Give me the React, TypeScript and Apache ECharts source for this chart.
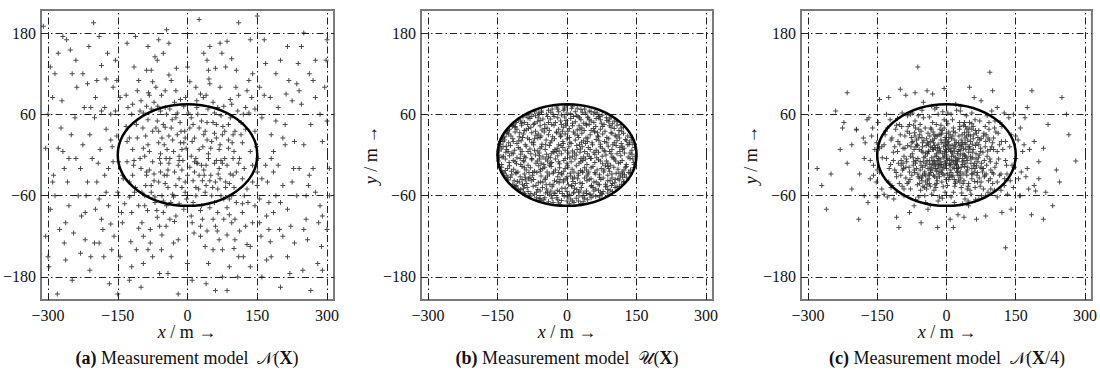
import React, { useEffect, useRef } from "react";
import * as echarts from "echarts";

const X_TICKS = [-300, -150, 0, 150, 300];
const Y_TICKS = [-180, -60, 60, 180];
const X_RANGE = [-315, 315];
const Y_RANGE = [-214, 214];
// ellipse: centre x, centre y, semi-axis x, semi-axis y
const ELLIPSE = [0, 0, 150, 75];

const CAPTION_TAGS = ["(a)", "(b)", "(c)"];
const CAPTION_TEXT = "Measurement model";
const CAPTION_MODELS = [["𝒩", "X", ""], ["𝒰", "X", ""], ["𝒩", "X", "/4"]];

// (a) N(X)
const PANEL_A = [
  -12,8, 35,-22, -48,41, 70,15, -88,-30, 22,60, -5,-55, 110,-12, -130,20, 55,48,
  -70,-70, 95,75, -25,95, 140,-40, -160,-10, 8,-90, 180,30, -200,55, 60,-105, -105,110,
  15,25, -40,-12, 82,-48, -62,18, 30,-75, -95,62, 125,38, -150,-55, 45,2, -18,-35,
  200,-70, -230,-20, 0,130, 165,88, -185,-95, 75,-140, -55,-118, 250,15, -270,80, 105,125,
  -33,52, 48,-38, -115,-8, 88,22, -8,72, 152,-5, -175,38, 28,-120, -78,-45, 118,-85,
  -290,-40, 285,60, -240,140, 230,-130, -120,-165, 135,170, -45,185, 40,-190, 300,-110, -305,10,
  5,-18, -22,30, 62,-8, -58,-25, 38,35, -82,5, 92,-28, 18,-48, -38,68, 72,58,
  -145,85, 155,-65, -195,-40, 210,45, -120,-85, 175,-110, -215,105, 260,-45, -255,-75, 190,120,
  -10,-8, 12,45, -30,-62, 52,-60, -68,40, 100,5, -100,-20, 132,62, -138,-35, 20,-12,
  -260,170, 275,140, -180,-150, 220,-175, -85,160, 90,-165, -300,-150, 305,-20, -220,-125, 240,95,
  40,88, -52,-85, 68,-20, -90,28, 115,48, -125,-62, 148,12, -165,60, 185,-25, -205,-5,
  25,-30, -15,18, 58,32, -42,-48, 78,-65, -72,78, 98,-5, -110,45, 128,-50, -140,-100,
  -275,-110, 290,20, -250,30, 255,-95, -235,-60, 245,75, -210,-170, 215,160, -190,175, 170,-155,
  2,62, -28,-98, 48,105, -58,2, 85,-118, -98,-55, 110,88, -118,8, 140,-100, -152,28,
  33,12, -18,-72, 65,70, -48,95, 90,-42, -80,-110, 105,-70, -128,70, 160,55, -170,-75,
  -65,140, 70,165, -35,-150, 45,-160, -155,140, 160,-180, -100,-195, 110,195, -20,-205, 25,200,
  280,-160, -285,120, 295,100, -295,-80, 270,-20, -265,-20, 300,170, -310,190, 265,-200, -280,-205,
  -6,35, 18,-60, -44,-30, 52,20, -75,-10, 88,45, -92,-75, 122,-20, -108,95, 138,85,
  -158,-120, 172,-40, -188,8, 195,70, -222,70, 228,-20, -245,-115, 238,135, -262,-155, 265,45,
  10,-100, -40,118, 60,128, -85,-140, 95,142, -122,-128, 128,-132, -60,-175, 75,-180, 0,-160,
  -15,82, 32,-95, -52,-68, 70,-35, -85,52, 102,-95, -102,-5, 118,18, -135,-72, 150,-45,
  180,-5, -178,-30, 205,-45, -198,85, 218,110, -228,-90, 235,-60, -242,55, 258,-125, -268,5,
  20,70, -30,5, 42,-112, -65,-92, 80,35, -75,108, 100,-138, -112,-48, 132,110, -145,-150,
  45,-5, -5,-40, 28,90, -48,70, 65,-85, -88,-25, 108,65, -132,42, 145,-75, -162,12,
  300,50, -300,60, 285,-75, -288,-30, 250,180, -252,155, 200,-195, -202,195, 150,205, -150,-205,
  5,108, -20,-125, 35,150, -42,-175, 55,-140, -70,145, 85,168, -95,-160, 120,-150, -130,165,
  168,135, -175,112, 185,-85, -190,-65, 210,15, -215,-40, 225,80, -230,-145, 248,-170, -255,-5,
  -8,18, 15,-25, -25,55, 40,-45, -55,-60, 75,-12, -78,68, 92,82, -105,-108, 112,-112,
  135,-135, -148,-10, 155,100, -165,-102, 178,-128, -185,132, 198,-110, -208,-150, 215,-80, -225,120,
  240,-20, -238,100, 262,120, -265,-130, 275,-55, -278,150, 288,-135, -290,85, 305,-60, -305,-120,
  -20,-15, 10,20, -35,40, 50,-30, -60,-5, 75,30, -90,-45, 105,-25, -120,60, 135,5,
  30,50, -45,-75, 65,-50, -75,35, 95,-60, -100,80, 125,70, -140,-30, 145,35, -155,65,
  -2,-65, 20,80, -25,-90, 40,-15, -55,25, 70,100, -80,-130, 95,-100, -115,130, 130,-70,
  8,-2, -16,48, 28,-82, -38,-5, 58,62, -62,-40, 85,-78, -95,-120, 110,-150, -130,-10,
  170,-90, -175,-55, 190,50, -195,110, 205,-120, -210,30, 225,-40, -220,-85, 235,105, -240,-5,
  -50,15, 60,-40, 12,-38, -28,78, 45,125, -68,100, 80,-5, -92,-2, 118,-35, -105,-75,
  25,8, -12,-22, 38,-55, -45,60, 62,45, -70,-62, 88,10, -85,15, 100,-48, -125,25,
  -160,100, 150,-25, -170,-20, 175,-70, -185,65, 195,-15, -200,-130, 212,90, -218,-60, 230,20,
  5,40, -8,-80, 18,100, -30,-130, 42,140, -52,150, 68,-125, -75,-150, 82,130, -88,125,
  15,-10, -25,-45, 35,30, -38,-95, 55,-95, -58,65, 72,-60, -65,50, 98,30, -96,40,
  140,120, -142,-85, 158,-120, -163,-140, 180,-150, -172,150, 120,60, -110,-140, 135,-165, -125,-185,
  -3,10, 22,-12, -32,22, 42,48, -48,-42, 58,-12, -72,-28, 78,72, -82,88, 90,-88,
  255,-60, -258,-40, 270,110, -272,40, 282,-100, -285,-60, 290,-170, -295,130, 245,160, -248,-185,
  48,160, -62,170, 108,-180, -112,175, 165,170, -168,-190, 60,-200, -40,165, 10,-185, 85,-200,
  -18,-2, 32,-38, -42,-22, 55,78, -60,-105, 72,-8, -88,72, 102,35, -118,-30, 125,-105,
  -5,25, 18,-5, -28,-25, 42,22, -52,45, 66,-28, -78,-55, 92,55, -108,25, 122,-60,
  12,-70, -22,62, 34,85, -46,-105, 58,-70, -64,72, 78,-95, -86,-82, 104,100, -114,-55,
  0,-30, 25,40, -40,28, -58,-12, 50,10, 85,-15, -95,10, 115,30, -125,-40, 140,-15,
  -12,-48, 28,-105, -35,110, 62,25, -72,-38, 98,-30, -102,65, 118,-72, -132,88, 145,68,
  160,-35, -165,22, 178,85, -182,-110, 190,-60, -192,-12, 205,25, -208,70, 222,-105, -225,15,
  8,55, -18,-8, 36,-30, -32,-58, 54,-48, -44,8, 76,42, -66,-82, 90,-65, -84,92,
  -4,85, 14,-115, -24,128, 38,-135, 46,112, -56,-140, 74,150, -78,125, 102,-125, -98,-100,
  155,-100, -152,110, 168,-15, -178,70, 185,5, -190,-130, 200,140, -198,-80, 215,-150, -212,160,
  24,-50, -36,-70, 44,68, -50,-30, 68,8, -62,35, 82,-40, -92,-60, 96,18, -116,-15,
  250,-110, -248,120, 262,-30, -262,-100, 275,85, -278,10, 290,-90, -298,-165, 298,140, -268,175,
  30,-15, -14,35, -46,-5, 48,-78, -56,88, 64,-112, -82,-22, 112,-5, -118,75, 128,95,
];

// (b) U(X)
const PANEL_B = [
  -40,66, -22,71, -5,68, 12,72, 30,67, 48,65, -55,65, 0,73, 22,69, -32,68,
  -95,56, -80,61, -68,58, -55,63, -42,57, -30,60, -18,64, -5,56, 8,61, 20,58, 33,63, 45,56, 58,60, 70,57, 85,55, 95,56, -88,58, -60,60, -12,59, 27,55, 52,64, 65,62,
  -115,46, -105,52, -92,48, -80,54, -70,47, -58,51, -48,45, -36,53, -25,48, -14,50, -3,46, 8,54, 18,49, 30,52, 41,46, 52,50, 63,54, 74,47, 86,51, 98,46, 108,49, 116,45, -85,45, -62,55, -20,55, 12,47, 45,55, 80,45,
  -128,36, -118,42, -108,38, -98,44, -88,37, -78,41, -68,35, -58,43, -48,39, -38,36, -28,44, -18,38, -8,41, 2,35, 12,43, 22,37, 32,40, 42,44, 52,36, 62,42, 72,38, 82,35, 92,43, 102,39, 112,36, 122,41, -116,44, -72,45, -12,45, 48,45, 118,35, 5,39,
  -138,26, -130,32, -121,28, -112,34, -103,27, -94,31, -85,25, -76,33, -67,29, -58,26, -49,34, -40,30, -31,27, -22,33, -13,28, -4,31, 5,26, 14,34, 23,29, 32,32, 41,25, 50,30, 59,34, 68,27, 77,31, 86,26, 95,33, 104,29, 113,25, 122,32, 131,28, 138,26, -128,34, -10,35, 60,35,
  -143,16, -135,22, -126,18, -117,24, -108,17, -99,21, -90,15, -81,23, -72,19, -63,25, -54,16, -45,22, -36,18, -27,24, -18,15, -9,20, 0,24, 9,17, 18,22, 27,15, 36,21, 45,25, 54,18, 63,23, 72,16, 81,20, 90,24, 99,15, 108,21, 117,17, 126,23, 135,19, 142,16, -140,24, 40,17, -70,24,
  -146,6, -138,12, -130,8, -122,14, -113,7, -105,11, -97,5, -88,13, -80,9, -72,15, -63,6, -55,12, -47,8, -38,14, -30,5, -21,10, -13,14, -4,7, 4,12, 12,6, 21,14, 29,9, 38,5, 46,11, 55,15, 63,7, 72,12, 80,6, 89,13, 97,8, 106,14, 114,5, 123,10, 131,15, 140,7, 146,11, -17,6,
  -147,0, -140,-3, -132,4, -124,-1, -116,2, -108,-4, -100,1, -92,-2, -84,5, -76,-5, -68,0, -60,3, -52,-3, -44,1, -36,-4, -28,4, -20,-1, -12,2, -4,-5, 4,3, 12,-2, 20,0, 28,4, 36,-3, 44,2, 52,-5, 60,1, 68,4, 76,-2, 84,0, 92,5, 100,-4, 108,2, 116,-1, 124,3, 132,-3, 140,1, 147,-2,
  -148,-9, -141,-14, -133,-6, -125,-11, -116,-8, -109,-13, -101,-5, -93,-10, -84,-15, -76,-7, -67,-12, -59,-6, -50,-14, -42,-9, -33,-11, -25,-6, -16,-13, -7,-8, 1,-15, 9,-10, 17,-6, 26,-12, 34,-8, 43,-14, 51,-5, 60,-11, 68,-7, 77,-13, 85,-9, 94,-15, 102,-6, 111,-12, 119,-8, 128,-14, 136,-5, 144,-11, -38,-15,
  -141,-18, -133,-23, -124,-16, -115,-21, -106,-25, -97,-17, -88,-22, -79,-19, -70,-24, -61,-16, -52,-20, -43,-25, -34,-17, -25,-22, -16,-19, -7,-24, 2,-18, 11,-21, 20,-16, 29,-23, 38,-19, 47,-25, 56,-17, 65,-22, 74,-20, 83,-16, 92,-24, 101,-18, 110,-21, 119,-25, 128,-17, 137,-22, 144,-19, -58,-24, 15,-25, 88,-17,
  -136,-27, -128,-33, -119,-29, -110,-26, -101,-32, -92,-28, -83,-35, -74,-30, -65,-26, -56,-31, -47,-34, -38,-28, -29,-25, -20,-32, -11,-29, -2,-35, 7,-27, 16,-33, 25,-30, 34,-26, 43,-31, 52,-35, 61,-28, 70,-33, 79,-25, 88,-30, 97,-34, 106,-27, 115,-31, 124,-29, 133,-26, -18,-26, 45,-28, -90,-33, 110,-35,
  -127,-37, -117,-43, -107,-39, -97,-36, -87,-42, -77,-38, -67,-45, -57,-40, -47,-36, -37,-43, -27,-38, -17,-41, -7,-37, 3,-44, 13,-39, 23,-35, 33,-42, 43,-38, 53,-45, 63,-40, 73,-36, 83,-43, 93,-38, 103,-41, 113,-37, 123,-39, -110,-45, -45,-44, 10,-45, 70,-44, -15,-36, 118,-43,
  -114,-47, -104,-52, -94,-49, -84,-54, -73,-46, -63,-51, -53,-48, -42,-55, -32,-47, -21,-52, -11,-49, 0,-54, 10,-46, 21,-51, 31,-48, 42,-53, 52,-46, 62,-50, 72,-55, 83,-47, 93,-52, 104,-48, 113,-46, -95,-55, -35,-53, 25,-55, 58,-53, 98,-54,
  -92,-57, -80,-61, -70,-58, -58,-64, -46,-56, -34,-60, -22,-63, -10,-57, 2,-62, 14,-56, 26,-60, 38,-64, 50,-58, 62,-61, 75,-57, 88,-56, -66,-63, -28,-56, 8,-65, 42,-57, 70,-62, -90,-59,
  -50,-66, -30,-70, -12,-67, 5,-72, 25,-68, 44,-66, -60,-65, -15,-73, 15,-70, 35,-69,
  -35,63, -8,66, 18,64, 40,62, 60,63, -62,62, -20,68, 10,69,
  -100,50, -76,57, -52,53, -28,57, -2,51, 24,57, 48,52, 72,52, 92,53, -110,48, 102,50, -40,48, 36,47, 68,56,
  -124,38, -102,33, -83,39, -62,31, -43,40, -23,34, -2,43, 17,31, 37,36, 57,39, 77,42, 97,32, 117,40, -112,41, 108,44,
  -134,27, -116,20, -96,26, -76,18, -56,28, -33,21, -14,27, 6,19, 25,26, 44,20, 66,28, 86,18, 106,27, 128,21, -144,20, 140,22,
  -142,9, -119,3, -101,9, -78,2, -58,10, -34,2, -9,11, 16,3, 33,12, 58,4, 76,10, 95,2, 119,13, 136,3, -26,8, 50,8,
  -137,-2, -112,-10, -89,-4, -64,-9, -40,-3, -18,-10, 6,-4, 30,-10, 48,-2, 72,-9, 97,-3, 115,-11, 142,-6, -56,-12, 88,-12,
  -128,-20, -110,-27, -92,-19, -74,-26, -48,-18, -30,-27, -4,-20, 24,-27, 42,-22, 60,-26, 80,-22, 97,-28, 123,-22, -139,-25, 136,-27,
  -122,-33, -103,-40, -80,-33, -62,-41, -42,-31, -22,-39, 0,-32, 18,-42, 38,-34, 58,-40, 78,-34, 98,-42, 120,-33, -92,-45, 88,-38,
  -100,-51, -78,-57, -58,-53, -38,-58, -16,-54, 5,-58, 28,-53, 48,-58, 68,-52, 88,-51, 108,-47, -110,-47, 16,-49,
  -48,-63, -20,-66, 0,-68, 20,-64, 52,-63, -40,-69, 30,-72,
  -70,64, 38,68, -6,71, -44,60, 76,59, -84,55, 14,57, 90,49, -98,47, -64,49,
  -33,45, 26,43, 58,48, 95,41, -126,31, -92,36, -54,37, -15,31, 28,38, 66,33,
  112,30, 134,16, -131,13, -104,21, -46,15, -8,17, 31,19, 69,21, 102,18, 120,8,
  -127,5, -94,-8, -70,7, -46,-6, -23,5, 0,-12, 22,8, 40,-6, 64,-4, 82,6,
  105,-9, 126,-18, -146,-4, -120,-24, -100,-14, -82,-26, -57,-21, -36,-12, -12,-27, 8,-31,
  33,-24, 52,-19, 70,-29, 90,-20, 112,-27, 128,-33, -131,-30, -114,-38, -96,-43, -72,-36,
  -52,-40, -30,-44, -8,-40, 12,-35, 28,-41, 48,-36, 67,-43, 86,-46, 104,-36, 120,-28,
  -106,-50, -86,-48, -66,-55, -44,-50, -26,-57, -4,-49, 15,-55, 36,-56, 56,-48, 78,-54,
  96,-45, -82,-60, -56,-67, -32,-64, -6,-61, 12,-68, 34,-62, 56,-60, 76,-58, -18,-71,
  -112,42, 122,-40, -138,20, 145,-14, -145,12, 0,62, -90,-37, 30,-5, -60,-1, 114,11,
];

// (c) N(X/4)
const PANEL_C = [
  0,0, 12,-8, -15,10, 25,5, -30,-12, 40,18, -45,3, 55,-20, -60,25, 8,30,
  -8,-28, 20,-40, -22,45, 35,-5, -38,-35, 50,12, -55,-15, 65,32, -70,8, 78,-25,
  5,15, -12,-18, 18,22, -25,-2, 30,-25, -35,20, 42,-12, -48,-28, 58,8, -62,-5,
  85,20, -88,-18, 95,-35, -100,30, 110,5, -115,-8, 120,42, -125,-40, 130,-15, -135,15,
  2,-45, -5,52, 15,-55, -18,60, 28,48, -32,-58, 45,-50, -50,55, 62,-48, -68,50,
  10,5, -3,-10, 22,-15, -20,28, 33,12, -42,-8, 48,30, -52,18, 68,-10, -75,-30,
  72,50, -80,45, 90,-55, -92,-50, 102,25, -108,-32, 118,-28, -120,22, 140,30, -145,-25,
  -2,22, 8,-22, -28,8, 38,-38, -46,40, 52,-2, -58,-42, 70,15, -74,2, 82,-8,
  150,-5, -155,8, 160,40, -165,-35, 175,-20, -180,25, 190,-45, -195,38, 210,10, -215,-12,
  15,35, -10,-40, 25,-30, -35,-22, 44,38, -40,32, 55,-35, -65,-20, 75,-40, -85,35,
  3,-5, -6,12, 16,-2, -14,-6, 26,18, -24,-20, 36,2, -32,-4, 46,-18, -44,14,
  88,-2, -90,10, 98,12, -98,-8, 105,-18, -105,20, 112,32, -112,-22, 125,-45, -128,40,
  -100,97, -62,130, 94,122, -225,40, 238,-22, 128,-137, -103,-107, 184,-88, 280,-9, -19,-107,
  15,-107, 193,-53, -195,37, 60,85, -40,-80, 20,75, -70,-75, 110,70, -130,60,
  0,32, -5,-30, 20,12, -18,16, 32,-18, -28,-30, 40,25, -38,5, 52,20, -50,-10,
  60,-25, -66,12, 74,5, -72,-15, 80,28, -82,-40, 92,38, -95,-22, 100,-42, -102,45,
  10,60, -15,-62, 30,65, -25,68, 40,-65, -45,-70, 55,62, -60,-62, 70,-65, -78,60,
  160,-60, -168,55, 175,70, -170,-70, 200,-35, -205,-50, 220,45, -230,8, 245,-40, -250,-28,
  6,-15, -8,2, 14,28, -16,-24, 24,-10, -22,2, 34,30, -30,22, 42,8, -40,-20,
  48,-42, -52,-30, 58,42, -60,38, 66,-30, -68,28, 76,-12, -78,-2, 86,-28, -85,-42,
  135,55, -140,-50, 145,-48, -148,48, 155,22, -158,-15, 165,5, -162,28, 172,-32, -178,-5,
  -5,40, 5,-36, -12,44, 18,-46, -30,48, 32,-48, -48,-48, 50,48, -56,-52, 62,52,
  4,8, -10,-14, 12,-32, -20,-38, 28,38, -34,40, 36,-42, -42,-44, 54,-28, -55,35,
  95,-10, -92,-2, 102,-28, -110,38, 115,15, -118,-45, 128,20, -130,-5, 138,-38, -140,12,
  75,80, -80,-85, 85,-90, -88,88, 100,95, -108,-92, 120,-85, -125,85, 140,-80, -145,82,
  38,-92, -42,95, 50,100, -55,-100, 25,-88, -30,90, 65,-95, -68,92, 8,-95, -5,98,
  20,-8, -26,14, 30,0, -36,-14, 44,-4, -46,-16, 56,4, -54,6, 64,-6, -64,16,
  72,22, -70,-22, 80,-20, -76,26, 84,12, -86,-10, 90,25, -94,-12, 96,-50, -97,42,
  0,-20, 2,18, -18,-12, 10,-26, -12,30, 22,-20, -26,-32, 36,-28, -36,28, 46,22,
  105,50, -108,-55, 118,-52, -122,52, 132,-58, -135,-58, 145,60, -150,-62, 158,-60, -152,-40,
  230,-75, -240,65, 260,60, -270,-45, 185,95, -190,-95, 210,-95, -215,92, 250,85, -260,-80,
  -2,8, 7,-12, -10,18, 16,10, -20,-8, 24,-24, -26,24, 34,-10, -34,-26, 42,16,
  -4,-2, 9,6, -17,-5, 21,-14, -28,18, 31,7, -37,-9, 45,-22, -52,12, 58,24,
  6,-33, -14,38, 19,-42, -23,-48, 37,44, -41,-37, 47,-46, -57,45, 61,-39, -63,-44,
  1,12, -9,-22, 17,-20, -19,7, 27,-5, -31,11, 39,-17, -43,24, 51,9, -47,-25,
  66,18, -66,-8, 73,-18, 70,36, -73,20, 79,4, -80,-25, 87,-15, -84,14, 93,22,
  -2,-12, 11,24, -24,-14, 29,14, -33,-18, 41,-2, -49,-4, 53,-12, -57,-22, 63,14,
  14,-30, -16,30, 26,-37, -29,34, 39,33, -45,-31, 49,40, -53,-38, 67,-26, -69,33,
  -98,-15, 102,8, -106,5, 108,-12, -112,12, 115,-30, -118,25, 122,8, -124,-20, 128,-8,
  3,46, -7,-47, 13,52, -27,-52, 33,-56, -37,56, 43,58, -47,-60, 53,-58, -61,58,
  7,-7, -4,5, 15,-10, -12,22, 23,-26, -18,-28, 27,28, -26,-10, 35,18, -38,-28,
  44,-30, -41,18, 52,28, -46,-2, 59,-16, -54,-34, 64,2, -59,8, 71,-34, -67,-12,
  80,-50, -78,-50, 84,42, -83,42, 91,-38, -90,28, 96,-22, -99,-30, 104,40, -102,-42,
  142,-15, -145,10, 150,28, -150,-22, 156,-35, -160,40, 168,15, -165,-8, 178,-50, -172,52,
  -1,-36, 5,26, -11,32, 17,-36, -21,-42, 29,42, -35,-46, 47,34, -51,-46, 55,46,
  76,-60, -74,62, 88,58, -92,-60, 98,65, -96,62, 110,-62, -114,-65, 125,62, -128,-62,
  2,-28, 12,14, -6,-18, 20,-4, -14,-14, 26,-18, -22,-24, 32,22, -30,8, 38,-8,
  48,4, -44,-12, 56,16, -52,-18, 62,-20, -58,30, 68,26, -62,-28, 74,10, -72,-4,
  82,-32, -80,32, 86,30, -88,-34, 94,-6, -94,10, 100,18, -104,-12, 110,-40, -108,44,
  0,50, -3,-55, 10,-62, -8,64, 22,66, -18,-68, 35,-72, -32,72, 48,-75, -50,78,
  200,-10, -205,15, 170,55, -178,-60, 190,20, -188,-28, 215,-55, -222,48, 265,30, -280,-20,
  -7,-4, 13,3, -19,11, 23,-7, -27,-16, 33,15, -39,6, 43,-25, -49,21, 57,-4,
  4,20, -11,-26, 19,33, -21,-34, 29,-40, -33,38, 41,42, -45,-40, 55,38, -59,-34,
  9,-14, -3,26, 17,6, -15,-32, 25,-20, -29,-8, 37,10, -35,12, 45,-8, -41,2,
  61,-12, -65,22, 69,-4, -71,-10, 75,24, -77,12, 83,-30, -81,-18, 89,6, -87,-6,
  -1,4, 7,-30, -9,36, 15,40, -25,-44, 31,-34, -37,-42, 39,48, -43,-50, 51,-52,
  11,-2, -5,18, 21,18, -17,-16, 27,8, -23,28, 35,-14, -31,-22, 43,28, -39,16,
  57,-28, -53,26, 63,36, -61,-32, 67,-40, -67,40, 73,-46, -71,44, 81,32, -79,-36,
  95,8, -93,-20, 99,-26, -101,16, 107,34, -109,-26, 113,-6, -115,4, 119,20, -121,-14,
  -3,-16, 5,34, -13,6, 19,-12, -21,-2, 29,-30, -27,30, 39,0, -37,-30, 47,12,
  53,-6, -51,4, 59,30, -57,-10, 65,-16, -63,14, 71,0, -69,-26, 77,-20, -75,18,
  3,62, -9,-64, 17,-70, -21,70, 31,72, -35,-74, 47,-68, -53,66, 63,-66, -67,-66,
  131,-28, -133,30, 137,12, -139,-4, 147,-18, -151,18, 162,-25, -158,-30, 180,8, -176,18,
  85,-60, -84,58, 92,48, -96,-46, 104,-52, -106,54, 116,48, -120,-48, 126,-35, -132,35,
  1,-8, -2,14, 8,10, -12,-10, 14,-18, -16,4, 18,16, -20,-20, 24,2, -24,10,
];

const PANELS = [PANEL_A, PANEL_B, PANEL_C];

// layout (pixels)
const GRID_LEFT = [40, 421, 801];
const GRID_WIDTH = [294, 292, 292];
const GRID_TOP = 10;
const GRID_HEIGHT = 290;
const SHOW_Y_NAME = [false, true, true];

const SERIF = "Liberation Serif, DejaVu Serif, serif";
const PLUS = "path://M4,0H6V4H10V6H6V10H4V6H0V4H4Z";

function pairs(flat: number[]): number[][] {
  const out: number[][] = [];
  for (let i = 0; i + 1 < flat.length; i += 2) out.push([flat[i], flat[i + 1]]);
  return out;
}

const fmt = (v: number) => (v < 0 ? "−" + Math.abs(v) : String(v));

function buildOption() {
  const grid: any[] = [];
  const xAxis: any[] = [];
  const yAxis: any[] = [];
  const series: any[] = [];
  const graphic: any[] = [];

  PANELS.forEach((pts, i) => {
    grid.push({
      left: GRID_LEFT[i],
      top: GRID_TOP,
      width: GRID_WIDTH[i],
      height: GRID_HEIGHT,
      show: true,
      borderColor: "#7a7a7a",
      borderWidth: 2,
      backgroundColor: "transparent",
    });
    const tick = { show: true, inside: true, length: 5, lineStyle: { color: "#222", width: 1 } };
    const label = { fontFamily: SERIF, fontSize: 16, color: "#111" };
    xAxis.push({
      gridIndex: i, type: "value", position: "bottom",
      min: X_RANGE[0], max: X_RANGE[1],
      axisLine: { show: false }, splitLine: { show: false },
      axisTick: { ...tick, customValues: X_TICKS },
      axisLabel: { ...label, customValues: X_TICKS, formatter: fmt, margin: 7 },
    });
    xAxis.push({
      gridIndex: i, type: "value", position: "top",
      min: X_RANGE[0], max: X_RANGE[1],
      axisLine: { show: false }, splitLine: { show: false },
      axisTick: { ...tick, customValues: X_TICKS },
      axisLabel: { show: false, customValues: X_TICKS },
    });
    yAxis.push({
      gridIndex: i, type: "value", position: "left",
      min: Y_RANGE[0], max: Y_RANGE[1],
      axisLine: { show: false }, splitLine: { show: false },
      axisTick: { ...tick, customValues: Y_TICKS },
      axisLabel: { ...label, customValues: Y_TICKS, formatter: fmt, margin: 5 },
    });
    yAxis.push({
      gridIndex: i, type: "value", position: "right",
      min: Y_RANGE[0], max: Y_RANGE[1],
      axisLine: { show: false }, splitLine: { show: false },
      axisTick: { ...tick, customValues: Y_TICKS },
      axisLabel: { show: false, customValues: Y_TICKS },
    });

    series.push({
      type: "scatter",
      xAxisIndex: 2 * i,
      yAxisIndex: 2 * i,
      data: pairs(pts),
      symbol: PLUS,
      symbolSize: 5,
      itemStyle: { color: "#2a2a2a", opacity: 0.85 },
      silent: true,
      z: 2,
      markLine: {
        silent: true,
        symbol: ["none", "none"],
        label: { show: false },
        lineStyle: { type: [7, 3, 1.5, 3], color: "#222", width: 1 },
        data: [
          ...X_TICKS.map((v) => ({ xAxis: v })),
          ...Y_TICKS.map((v) => ({ yAxis: v })),
        ],
      },
    });

    series.push({
      type: "custom",
      xAxisIndex: 2 * i,
      yAxisIndex: 2 * i,
      data: [ELLIPSE],
      silent: true,
      z: 5,
      renderItem: (_p: any, api: any) => {
        const cx = api.value(0), cy = api.value(1), a = api.value(2), b = api.value(3);
        const c = api.coord([cx, cy]);
        const px = api.coord([cx + a, cy]);
        const py = api.coord([cx, cy + b]);
        return {
          type: "ellipse",
          shape: { cx: c[0], cy: c[1], rx: Math.abs(px[0] - c[0]), ry: Math.abs(c[1] - py[1]) },
          style: { fill: "none", stroke: "#000", lineWidth: 2.5 },
        };
      },
    });

    const centerX = GRID_LEFT[i] + GRID_WIDTH[i] / 2;
    const baseText = { fontFamily: SERIF, fontSize: 18, fill: "#111", align: "center", verticalAlign: "middle" };
    graphic.push({
      type: "text",
      x: centerX,
      y: 332,
      style: {
        ...baseText,
        text: "{i|x} / m →",
        rich: { i: { fontStyle: "italic", fontFamily: SERIF, fontSize: 18 } },
      },
    });
    if (SHOW_Y_NAME[i]) {
      graphic.push({
        type: "text",
        x: GRID_LEFT[i] - 50,
        y: GRID_TOP + GRID_HEIGHT / 2,
        rotation: Math.PI / 2,
        style: {
          ...baseText,
          text: "{i|y} / m →",
          rich: { i: { fontStyle: "italic", fontFamily: SERIF, fontSize: 18 } },
        },
      });
    }
    const m = CAPTION_MODELS[i];
    graphic.push({
      type: "text",
      x: centerX,
      y: 358,
      style: {
        ...baseText,
        text: `{b|${CAPTION_TAGS[i]}} ${CAPTION_TEXT}  {n|${m[0]}}({x|${m[1]}}${m[2]})`,
        rich: {
          b: { fontWeight: "bold", fontFamily: SERIF, fontSize: 18 },
          n: { fontFamily: "DejaVu Serif, DejaVu Sans, serif", fontSize: 17 },
          x: { fontWeight: "bold", fontFamily: SERIF, fontSize: 18 },
        },
      },
    });
  });

  return { animation: false, backgroundColor: "#fff", grid, xAxis, yAxis, series, graphic };
}

export default function App() {
  const ref = useRef<HTMLDivElement>(null);
  useEffect(() => {
    if (!ref.current) return;
    const chart = echarts.init(ref.current, undefined, { renderer: "svg" });
    chart.setOption(buildOption() as any);
    return () => chart.dispose();
  }, []);
  return (
    <div
      ref={ref}
      style={{ position: "absolute", left: 0, top: 0, width: 1100, height: 381, background: "#fff" }}
    />
  );
}
